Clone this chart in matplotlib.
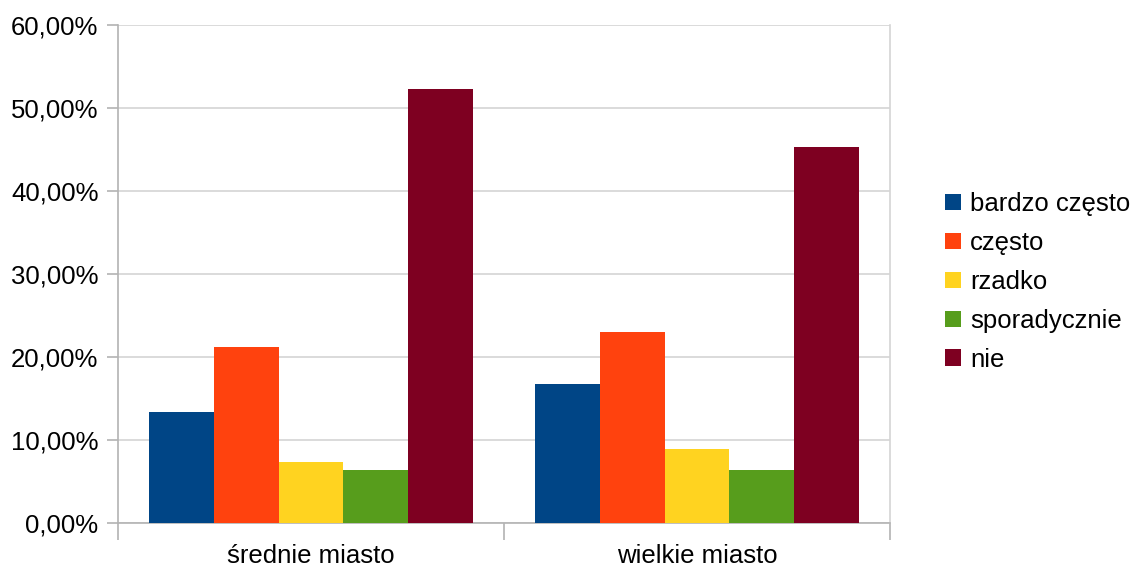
import matplotlib
matplotlib.use("Agg")
import matplotlib.pyplot as plt
import numpy as np
from matplotlib.ticker import FuncFormatter
from matplotlib.patches import Patch

categories = ["średnie miasto", "wielkie miasto"]
series = ["bardzo często", "często", "rzadko", "sporadycznie", "nie"]
values = {
    "bardzo często": [13.4, 16.75],
    "często": [21.2, 23.0],
    "rzadko": [7.4, 8.95],
    "sporadycznie": [6.4, 6.4],
    "nie": [52.25, 45.3],
}
colors = ["#004586", "#ff420e", "#ffd320", "#579d1c", "#7e0021"]

plt.rcParams['font.family'] = ['Liberation Sans', 'DejaVu Sans']
FS = 18.5

fig = plt.figure(figsize=(11.38, 5.69), dpi=100)
ax = fig.add_axes([118/1138, 1-523.3/569, (890-118)/1138, (523.3-25)/569])

n = len(series)
group = 0.837
bw = group / n
x = np.arange(len(categories))
for i, s in enumerate(series):
    ax.bar(x - group/2 + bw*(i+0.5), values[s], width=bw, color=colors[i], zorder=3)

ax.set_xlim(-0.5, len(categories)-0.5)
ax.set_ylim(0, 60)
ax.set_yticks(np.arange(0, 61, 10))
ax.yaxis.set_major_formatter(FuncFormatter(lambda v, p: f"{v:.2f}%".replace(".", ",")))
ax.grid(axis='y', color='#d4d4d4', linewidth=1.2, zorder=0)

ax.set_xticks(x)
ax.set_xticklabels(categories)
ax.set_xticks([-0.5, 0.5, 1.5], minor=True)
ax.tick_params(axis='x', which='major', length=0, pad=15, labelsize=FS)
ax.tick_params(axis='x', which='minor', length=12, color='#b3b3b3', width=1.2)
ax.tick_params(axis='y', length=8, color='#b3b3b3', width=1.2, labelsize=FS, pad=6)
for sp in ['left', 'bottom', 'right']:
    ax.spines[sp].set_color('#b3b3b3')
    ax.spines[sp].set_linewidth(1.2)
ax.spines['top'].set_visible(False)
ax.spines['right'].set_color('#d4d4d4')

handles = [Patch(facecolor=c, edgecolor='none') for c in colors]
fig.legend(handles, series, loc='center left', bbox_to_anchor=(945/1138, 1-282/569),
           frameon=False, fontsize=FS, handlelength=0.62, handleheight=0.62,
           handletextpad=0.35, labelspacing=0.58, borderpad=0, borderaxespad=0)

fig.savefig("out.png", dpi=100)
